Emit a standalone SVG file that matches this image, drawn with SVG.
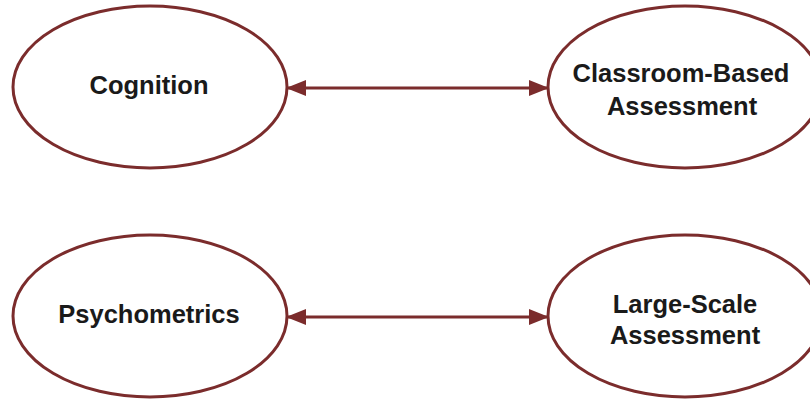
<svg xmlns="http://www.w3.org/2000/svg" width="810" height="399" viewBox="0 0 810 399">
<defs>
<marker id="ah" viewBox="0 0 20 16" refX="20" refY="8" markerWidth="20" markerHeight="16" markerUnits="userSpaceOnUse" orient="auto-start-reverse">
<path d="M0,0 L20,8 L0,16 Z" fill="#7b2c2c"/>
</marker>
</defs>
<style>
.n{fill:#fff;stroke:#7b2c2c;stroke-width:3}
.t{font-family:"Liberation Sans",Arial,sans-serif;font-weight:bold;font-size:25.5px;fill:#1a1a1a;text-anchor:middle}
.c{stroke:#7b2c2c;stroke-width:3;fill:none}
</style>
<rect width="810" height="399" fill="#fff"/>
<g id="cognition"><ellipse class="n" cx="150" cy="87" rx="137" ry="81"/><text class="t" x="149" y="94">Cognition</text></g>
<g id="classroom"><ellipse class="n" cx="685" cy="87" rx="137" ry="81"/><text class="t" x="681" y="82">Classroom-Based</text><text class="t" x="682" y="115">Assessment</text></g>
<g id="psychometrics"><ellipse class="n" cx="150" cy="316" rx="137" ry="81"/><text class="t" x="149" y="323">Psychometrics</text></g>
<g id="largescale"><ellipse class="n" cx="685" cy="316" rx="137" ry="81"/><text class="t" x="685" y="313">Large-Scale</text><text class="t" x="685" y="344">Assessment</text></g>
<g id="connectors">
<line class="c" x1="286" y1="88" x2="549" y2="88" marker-start="url(#ah)" marker-end="url(#ah)"/>
<line class="c" x1="286" y1="317" x2="549" y2="317" marker-start="url(#ah)" marker-end="url(#ah)"/>
</g>
</svg>
